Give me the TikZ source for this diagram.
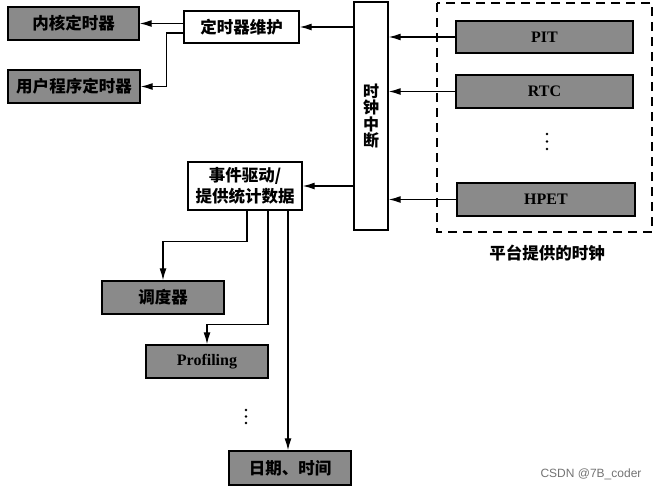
\documentclass[tikz,border=0pt]{standalone}
\usepackage{fontspec}
\setmainfont{Liberation Serif}
\newfontfamily\cjk{Noto Sans CJK SC}
\newfontfamily\wmfont{Liberation Sans}
\usetikzlibrary{arrows.meta,calc}
\definecolor{boxgray}{RGB}{138,138,138}
\tikzset{
  base/.style={draw=black, line width=1.4pt, inner sep=0pt, align=center, font=\cjk\bfseries\fontsize{16.5}{19}\selectfont},
  gbox/.style={base, fill=boxgray},
  wbox/.style={base, fill=white},
  ebox/.style={gbox, font=\bfseries\fontsize{16}{18}\selectfont},
  conn/.style={line width=1.3pt, -{Latex[length=12pt,width=7pt]}},
}
\begin{document}
\begin{tikzpicture}[x=1pt,y=-1pt]
\useasboundingbox (0,0) rectangle (660,490);
% nodes
\node[gbox, minimum width=131, minimum height=33] (kt) at (73.5,23.5) {内核定时器};
\node[gbox, minimum width=132, minimum height=33] (ut) at (74,86.5) {用户程序定时器};
\node[wbox, minimum width=115, minimum height=32] (tm) at (241.5,27) {定时器维护};
\node[wbox, minimum width=34, minimum height=228, font=\cjk\bfseries\fontsize{16}{16.5}\selectfont] (ci) at (371,116) {时\\钟\\中\\断};
\draw[line width=1.3pt, dash pattern=on 9pt off 6pt] (437,3) rectangle (652,232);
\node[ebox, minimum width=177, minimum height=32] (pit) at (544.5,37) {PIT};
\node[ebox, minimum width=177, minimum height=33] (rtc) at (544.5,91.5) {RTC};
\node[ebox, minimum width=178, minimum height=33] (hpet) at (546,199.5) {HPET};
\node[font=\cjk\bfseries\fontsize{16.5}{19}\selectfont] (plat) at (547,253) {平台提供的时钟};
\node[wbox, minimum width=114, minimum height=48, font=\cjk\bfseries\fontsize{16.5}{21}\selectfont] (ev) at (245,186) {事件驱动/\\提供统计数据};
\node[gbox, minimum width=122, minimum height=33] (sch) at (163,297.5) {调度器};
\node[ebox, minimum width=122, minimum height=33] (prof) at (207,361.5) {Profiling};
\node[gbox, minimum width=122, minimum height=34] (dt) at (290,468) {日期、时间};
\node[font=\wmfont\fontsize{12}{14}\selectfont, text=black!55] (wm) at (591,474) {CSDN @7B\_coder};
% dots
\foreach \yy in {134,141.5,149} \fill (547,\yy) circle (1.4);
\foreach \yy in {410,416.5,423} \fill (246,\yy) circle (1.4);
% connectors
\draw[conn] (pit.west) -- (ci.east |- pit.west);
\draw[conn] (rtc.west) -- (rtc.west -| ci.east);
\draw[conn] (hpet.west) -- (hpet.west -| ci.east);
\draw[conn] (ci.west |- tm.east) -- (tm.east);
\draw[conn] (ci.west |- ev.east) -- (ev.east);
\draw[conn] (tm.west |- kt.east) -- (kt.east);
\draw[conn] ($(tm.west)+(0,6)$) -- ++(-17,0) |- (ut.east);
\draw[conn] ([xshift=2pt]ev.south) -- ++(0,31) -| (sch.north);
\draw[conn] ([xshift=23pt]ev.south) -- ++(0,114) -| (prof.north);
\draw[conn] ([xshift=43pt]ev.south) -- ([xshift=43pt]ev.south |- dt.north);
\end{tikzpicture}
\end{document}
